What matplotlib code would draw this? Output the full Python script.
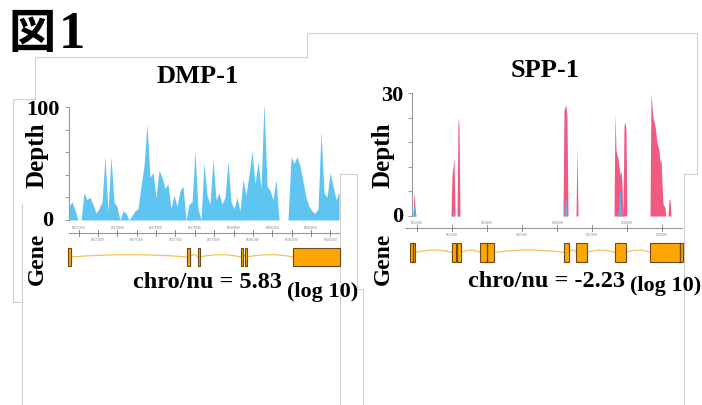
import numpy as np
import matplotlib
matplotlib.use('Agg')
import matplotlib.pyplot as plt
from matplotlib.path import Path
from matplotlib.patches import PathPatch, Rectangle
from matplotlib.transforms import ScaledTranslation

W, H = 702, 406
plt.rcParams['font.family'] = ['Liberation Serif', 'Noto Sans CJK JP']
plt.rcParams['font.weight'] = 'bold'

# ---- data ----
fig_label = '図1'
titles = ['DMP-1', 'SPP-1']
ratio_text = ['chro/nu = 5.83', 'chro/nu = -2.23']
ratio_unit = '(log 10)'

# DMP-1 coverage, one value per 155 bp bin
dmp_bin = 155
dmp_depth = [12, 16, 9, 0, 0, 24, 18, 20, 14, 6, 10, 16, 56, 8, 56, 16, 12, 0, 8, 6,
             0, 4, 8, 10, 30, 48, 85, 38, 42, 20, 44, 38, 28, 32, 10, 22, 12, 26, 30, 0,
             14, 16, 61, 10, 0, 51, 22, 14, 54, 18, 24, 14, 20, 52, 16, 10, 20, 8, 36, 22,
             40, 61, 32, 52, 28, 104, 30, 26, 18, 36, 0, 0, 0, 0, 56, 50, 56, 48, 34, 20,
             12, 8, 6, 10, 78, 24, 20, 42, 30, 18, 25]
dmp_span = 14000
dmp_start = 88171500
dmp_exons = [(-52, 103), (6096, 6251), (6664, 6767), (8886, 8989), (9092, 9195), (11572, 14000)]
dmp_marks = []

# SPP-1 coverage, two samples
spp_pos = [29, 57, 86, 114, 1114, 1143, 1200, 1229, 1286, 1314, 1343, 1371,
           4314, 4343, 4400, 4429, 4457, 4686, 4714, 4743,
           5771, 5800, 5829, 5886, 5943, 5971, 6000, 6029, 6057, 6086, 6114, 6143,
           6800, 6829, 6886, 6943, 7000, 7057, 7086, 7114, 7143, 7171, 7229, 7257,
           7314, 7343, 7371, 7400]
spp_pink = [0, 6, 2, 0, 0, 10, 14, 0, 0, 24, 22, 0,
            0, 26, 27, 24, 0, 0, 17, 0,
            0, 25, 16, 14, 10, 11, 8, 0, 22, 23, 21, 0,
            0, 30, 24, 22, 18, 16, 13, 14, 8, 3, 2, 0,
            0, 4, 4, 0]
spp_blue_pos = [29, 57, 86, 114, 1143, 1171, 1200, 1314, 1343, 1371,
                4343, 4371, 4400, 4429, 5886, 5943, 5971, 6000]
spp_blue = [0, 3, 1, 0, 0, 1, 0, 0, 1, 0,
            0, 4, 4, 0, 0, 7, 3, 0]
spp_span = 7743
spp_start = 9621850
spp_exons = [(-57, 86), (1157, 1257), (1300, 1400), (1943, 2329), (4343, 4486),
             (4700, 5000), (5800, 6114), (6814, 7743)]
spp_marks = [20, 2143, 7643]

BLUE = '#5EC5F2'
PINK = '#F05A82'
BLUE2 = '#55B4EA'
EXON = '#FFA500'
EDGE = '#6B4A1A'
INTRON = '#F2C25A'
AXC = '#999999'
FRAME = '#d2d2d2'

fig = plt.figure(figsize=(W / 100, H / 100), dpi=100)


def px_axes(x0, y0, x1, y1):
    return fig.add_axes([x0 / W, 1 - y1 / H, (x1 - x0) / W, (y1 - y0) / H], facecolor='none')


def fig_text(x, y, s, **kw):
    fig.text(x / W, 1 - y / H, s, **kw)


# faint frames of the pasted panels
bg = px_axes(0, 0, W, H)
bg.set_xlim(0, W)
bg.set_ylim(H, 0)
bg.axis('off')
frames = [
    [(13, 303), (13, 100), (35, 100), (35, 58), (307, 58), (307, 34), (697, 34),
     (697, 175), (684, 175), (684, 406)],
    [(13, 303), (22, 303)],
    [(22, 205), (22, 406)],
    [(340, 406), (340, 175), (357, 175), (357, 290), (363, 290), (363, 406)],
]
for fr in frames:
    xs, ys = zip(*fr)
    bg.plot(xs, ys, color=FRAME, lw=0.8)


def depth_axes(box, ymax, ticks, zero_shift):
    ax = px_axes(*box)
    ax.set_ylim(0, ymax)
    ax.set_yticks(ticks)
    ax.set_yticklabels([str(ticks[0])] + [''] * (len(ticks) - 2) + [str(ticks[-1])])
    for s in ['top', 'right', 'bottom']:
        ax.spines[s].set_visible(False)
    ax.spines['left'].set_color(AXC)
    ax.spines['left'].set_linewidth(0.8)
    ax.tick_params(axis='y', length=3, width=0.7, color=AXC, pad=3.5, labelsize=16)
    ax.set_xticks([])
    lbl = ax.get_yticklabels()[0]
    lbl.set_transform(lbl.get_transform() + ScaledTranslation(zero_shift / 100, 0.02, fig.dpi_scale_trans))
    return ax


def draw_coords(box, xmin, xmax, first, step, start):
    ax = px_axes(*box)
    ax.set_xlim(xmin, xmax)
    ax.set_ylim(-1, 1)
    ax.axis('off')
    ax.axhline(0, color=AXC, lw=0.8)
    for i, t in enumerate(range(first, xmax, step)):
        up = i % 2 == 0
        ax.plot([t, t], [-0.3, 0.3], color='#777777', lw=0.6)
        ax.text(t, 0.62 if up else -0.62, str(start + t), fontsize=2.4, ha='center',
                va='center', color='#777777', fontweight='normal')


def draw_gene(box, span, exons, marks, base):
    ax = px_axes(*box)
    ax.set_xlim(0, span)
    ax.set_ylim(0, 1)
    ax.axis('off')
    for (a, b), (c, d) in zip(exons[:-1], exons[1:]):
        mid = (b + c) / 2
        path = Path([(b, base), (mid, base + 0.22), (c, base)],
                    [Path.MOVETO, Path.CURVE3, Path.CURVE3])
        ax.add_patch(PathPatch(path, fc='none', ec=INTRON, lw=0.9))
    for a, b in exons:
        ax.add_patch(Rectangle((a, 0.1), b - a, 0.8, fc=EXON, ec=EDGE, lw=0.8, clip_on=False))
    for m in marks:
        ax.plot([m, m], [0.1, 0.9], color=EDGE, lw=1.0, clip_on=False)


# ---- DMP-1 ----
ax1 = depth_axes((69, 108, 340, 221), 100, [0, 20, 40, 60, 80, 100], -7)
dmp_pos = np.arange(len(dmp_depth)) * dmp_bin
ax1.fill_between(dmp_pos, 0, dmp_depth, color=BLUE, lw=0)
ax1.set_xlim(0, dmp_span)
draw_coords((69, 224, 340, 244), 0, dmp_span, 500, 1000, dmp_start)
draw_gene((69, 247, 340, 269), dmp_span, dmp_exons, dmp_marks, 0.5)

# ---- SPP-1 ----
ax2 = depth_axes((412, 94, 683, 217), 30, [0, 6, 12, 18, 24, 30], 0)
ax2.fill_between(spp_pos, 0, spp_pink, color=PINK, lw=0)
ax2.fill_between(spp_blue_pos, 0, spp_blue, color=BLUE2, lw=0)
ax2.set_xlim(0, spp_span)
draw_coords((405, 219, 683, 239), -200, spp_span, 150, 1000, spp_start)
draw_gene((412, 242, 683, 265), spp_span, spp_exons, spp_marks, 0.5)

# ---- text ----
fig_text(8, 48, fig_label[0], fontsize=34, va='baseline', ha='left',
         family=['Noto Sans CJK JP'], fontweight='bold')
fig_text(59, 48, fig_label[1:], fontsize=38, va='baseline', ha='left')
fig_text(198, 83, titles[0], fontsize=19, ha='center', va='baseline')
fig_text(545, 77, titles[1], fontsize=19, ha='center', va='baseline')
for x in (37, 383):
    fig_text(x, 155, 'Depth', fontsize=18, rotation=90, ha='center', va='center')
    fig_text(x, 259, 'Gene', fontsize=17, rotation=90, ha='center', va='center')
fig_text(133, 288, ratio_text[0], fontsize=17.5, ha='left', va='baseline')
fig_text(287, 297, ratio_unit, fontsize=16, ha='left', va='baseline')
fig_text(468, 287, ratio_text[1], fontsize=17.5, ha='left', va='baseline')
fig_text(630, 291, ratio_unit, fontsize=16, ha='left', va='baseline')

fig.savefig('out.png', dpi=100)
